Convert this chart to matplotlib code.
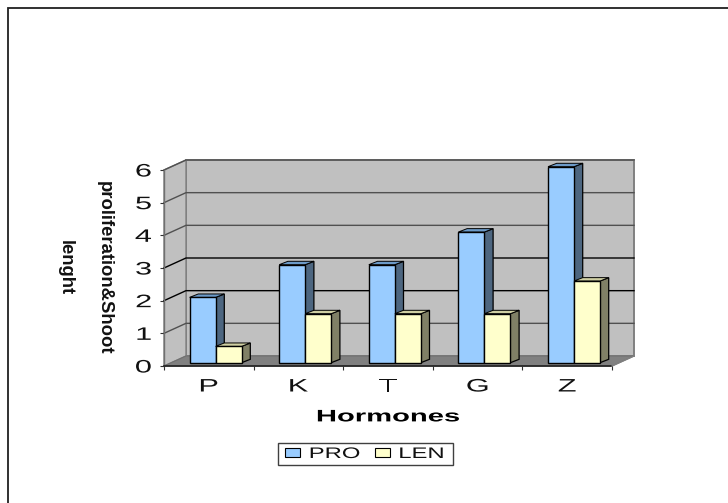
import matplotlib
matplotlib.use("Agg")
import matplotlib.pyplot as plt
from matplotlib.patches import Polygon, Rectangle, Patch
from matplotlib.patheffects import AbstractPathEffect
from matplotlib.transforms import Affine2D

categories = ["P", "K", "T", "G", "Z"]
pro_values = [2, 3, 3, 4, 6]
len_values = [0.5, 1.5, 1.5, 1.5, 2.5]
y_ticks = [0, 1, 2, 3, 4, 5, 6]
series_names = ["PRO", "LEN"]
x_title = "Hormones"
y_title = "proliferation&Shoot\n\nlenght"

W, H = 728, 503
FONT = "Liberation Sans"
BLUE = ("#99CCFF", "#4D6680", "#6C9AC8")
YELLOW = ("#FFFFCC", "#808066", "#CFCFA3")


class Stretch(AbstractPathEffect):
    """Widen glyphs along the reading direction, as in the stretched original."""
    def __init__(self, sx, anchor="center"):
        super().__init__()
        self.sx, self.anchor = sx, anchor

    def draw_path(self, renderer, gc, tpath, affine, rgbFace=None):
        ext = tpath.get_extents()
        c = {"left": ext.x0, "right": ext.x1, "center": (ext.x0 + ext.x1) / 2}[self.anchor]
        t = Affine2D().translate(-c, 0).scale(self.sx, 1).translate(c, 0) + affine
        renderer.draw_path(gc, tpath, t, rgbFace)


fig = plt.figure(figsize=(W / 100, H / 100), dpi=100, facecolor="white")
ax = fig.add_axes([164 / W, 1 - 366 / H, 448 / W, 196 / H])
ax.set_xlim(0, len(categories))
ax.set_ylim(0, 6)
ax.patch.set_visible(False)
for s in ("top", "right"):
    ax.spines[s].set_visible(False)
ax.spines["left"].set_color("#707070")
ax.spines["left"].set_linewidth(1.0)
ax.spines["bottom"].set_color("#202020")
ax.spines["bottom"].set_linewidth(1.2)

# depth of the 3-D box in data units
DX, DY = 22 / 89.6, 10 / 32.67
n = len(categories)
ymax = y_ticks[-1]
kw = dict(clip_on=False)
ax.add_patch(Polygon([(DX, DY), (n + DX, DY), (n + DX, ymax + DY), (DX, ymax + DY)],
                     fc="#C0C0C0", ec="#808080", lw=1.4, zorder=1, **kw))
ax.add_patch(Polygon([(0, 0), (DX, DY), (DX, ymax + DY), (0, ymax)],
                     fc="#C0C0C0", ec="#808080", lw=1.0, zorder=1, **kw))
ax.add_patch(Polygon([(0, 0), (n, 0), (n + DX, DY), (DX, DY)],
                     fc="#808080", ec="#707070", lw=0.8, zorder=2, **kw))
for v in y_ticks[1:]:
    col = "#000000" if v in (2, 3) else "#505050"
    ax.plot([0, DX, n + DX], [v, v + DY, v + DY], color=col, lw=1.0, zorder=2, clip_on=False)
ax.plot([n, n + DX], [0, DY], color="#808080", lw=1.0, zorder=3, clip_on=False)

# bars
BW = 26 / 89.6
SHIFT = 6.8 / 89.6
BASE = 3.3 / 32.67
BDX, BDY = 8.7 / 89.6, 3.4 / 32.67


def box(x0, v, cols, z):
    x1 = x0 + BW
    top = BASE + v
    ax.bar(x0, v, BW, bottom=BASE, align="edge", color=cols[0], edgecolor="black", lw=1.0, zorder=z + 0.2, clip_on=False)
    ax.add_patch(Polygon([(x1, BASE), (x1 + BDX, BASE + BDY), (x1 + BDX, top + BDY), (x1, top)],
                         fc=cols[1], ec="black", lw=0.9, zorder=z, **kw))
    ax.add_patch(Polygon([(x0, top), (x1, top), (x1 + BDX, top + BDY), (x0 + BDX, top + BDY)],
                         fc=cols[2], ec="black", lw=0.7, zorder=z, **kw))


for i, (p, l) in enumerate(zip(pro_values, len_values)):
    c = i + 0.5 + SHIFT
    box(c - BW, p, BLUE, 4 + i)
    box(c, l, YELLOW, 4.5 + i)

# axes text
ax.set_yticks(y_ticks)
ax.set_xticks(range(n + 1))
ax.set_xticks([i + 0.5 for i in range(n)], minor=True)
ax.set_xticklabels([])
ax.set_xticklabels(categories, minor=True, fontfamily=FONT, fontsize=13, color="#111111")
ax.tick_params(axis="x", which="major", length=3, width=0.8, color="#303030")
ax.tick_params(axis="x", which="minor", length=0, pad=9)
ax.tick_params(axis="y", length=3, width=0.8, color="#303030", pad=6, labelsize=13)
for t in ax.get_yticklabels():
    t.set_fontfamily(FONT)
    t.set_color("#111111")
    t.set_path_effects([Stretch(1.7, "right")])
for t in ax.get_xticklabels(minor=True):
    t.set_path_effects([Stretch(1.7)])

ax.set_xlabel(x_title, fontfamily=FONT, fontweight="bold", fontsize=12, labelpad=10, color="black",
              path_effects=[Stretch(1.75)])
ax.set_ylabel(y_title, fontfamily=FONT, fontweight="bold", fontsize=13.3, rotation=270,
              linespacing=1.2, va="center", ha="center", color="#111111")
ax.yaxis.set_label_coords((84.5 - 164) / 448, 0.5)

# legend
handles = [Patch(fc=BLUE[0], ec="black", lw=0.8), Patch(fc=YELLOW[0], ec="black", lw=0.8)]
leg = fig.legend(handles, series_names, loc="upper left", bbox_to_anchor=(285 / W, 1 - 447 / H),
                 ncols=2, frameon=False, borderpad=0, borderaxespad=0,
                 handlelength=1, handleheight=0.5, handletextpad=0.6, columnspacing=2.1,
                 prop={"family": FONT, "size": 11})
for t in leg.get_texts():
    t.set_path_effects([Stretch(1.56, "left")])
    t.set_color("#111111")
fig.add_artist(Rectangle((278 / W, 1 - 465 / H), 175 / W, 22 / H, transform=fig.transFigure,
                         fc="none", ec="#404040", lw=1.0))

# outer frame: only the left and top edges lie inside the picture
fig.add_artist(Rectangle((8 / W, -0.1), 1.1, 1.1 - 8 / H + 0, transform=fig.transFigure,
                         fc="none", ec="#202020", lw=1.3))
fig.savefig("out.png", dpi=100)
